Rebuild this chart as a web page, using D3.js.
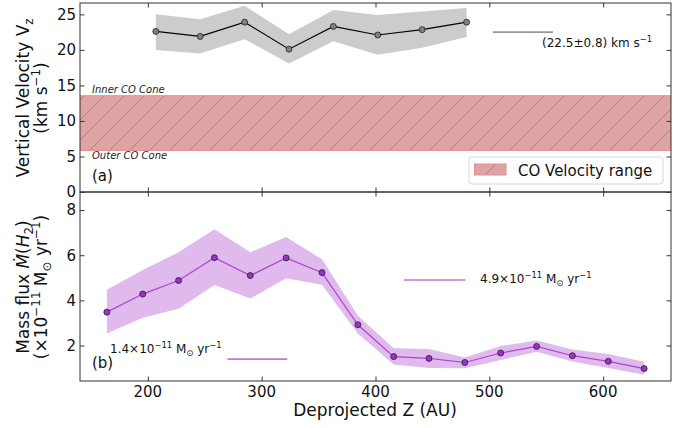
<!DOCTYPE html>
<html>
<head>
<meta charset="utf-8">
<script src="https://cdn.jsdelivr.net/npm/d3@7"></script>
<style>
  html, body { margin: 0; padding: 0; background: #fff; }
  svg { display: block; font-family: "DejaVu Sans", sans-serif; }
</style>
</head>
<body>
<svg id="chart" width="692" height="428"></svg>
<script>
// Panel (a): vertical velocity along the outflow
const zVel = [207, 246, 285, 324, 363, 402, 441, 480];
const vz = [22.6, 21.9, 23.9, 20.1, 23.3, 22.1, 22.85, 23.9];
const vzLow = [20.0, 19.5, 21.5, 18.1, 21.2, 19.3, 20.3, 21.8];
const vzHigh = [25.0, 24.3, 26.2, 22.2, 25.6, 24.9, 25.4, 25.9];
const vzMean = 22.5;
const vzMeanSpan = [503, 556];
const coRange = [5.85, 13.55];

// Panel (b): H2 mass flux
const zFlux = [164, 195.5, 227, 258.5, 290, 321.5, 353, 384.5, 416, 447, 478.5, 510, 541.5, 573, 604.5, 636];
const flux = [3.48, 4.28, 4.88, 5.89, 5.10, 5.88, 5.23, 2.92, 1.51, 1.43, 1.25, 1.67, 1.96, 1.55, 1.30, 0.98];
const fluxLow = [2.53, 3.23, 3.63, 4.68, 4.08, 4.98, 4.69, 2.53, 1.16, 1.01, 0.99, 1.36, 1.72, 1.29, 1.01, 0.71];
const fluxHigh = [4.47, 5.35, 6.13, 7.15, 6.13, 6.81, 5.82, 3.32, 1.88, 1.85, 1.47, 1.98, 2.22, 1.82, 1.63, 1.28];
const fluxInner = 4.9, fluxInnerSpan = [425, 479];
const fluxOuter = 1.4, fluxOuterSpan = [270, 322.5];

// Tick values
const xTicks = [200, 300, 400, 500, 600];
const vTicks = [0, 5, 10, 15, 20, 25];
const fTicks = [2, 4, 6, 8];

const svg = d3.select("#chart");
const L = 80, R = 671;
const topA = 3, botA = 192, topB = 192, botB = 381;

const x = d3.scaleLinear().domain([140.4, 659.6]).range([L, R]);
const yA = d3.scaleLinear().domain([0, 26.6]).range([botA, topA]);
const yB = d3.scaleLinear().domain([0.43, 8.8]).range([botB, topB]);

const defs = svg.append("defs");
const hatch = defs.append("pattern").attr("id", "hatch")
  .attr("patternUnits", "userSpaceOnUse").attr("width", 20).attr("height", 20);
hatch.append("rect").attr("width", 20).attr("height", 20).attr("fill", "#dea4a4");
hatch.append("path").attr("d", "M-5,5 L5,-5 M0,20 L20,0 M15,25 L25,15")
  .attr("stroke", "#cc6f6f").attr("stroke-width", 0.9);

defs.append("clipPath").attr("id", "clipA").append("rect")
  .attr("x", L).attr("y", topA).attr("width", R - L).attr("height", botA - topA);
defs.append("clipPath").attr("id", "clipB").append("rect")
  .attr("x", L).attr("y", topB).attr("width", R - L).attr("height", botB - topB);

// ---------- Panel (a) ----------
const gA = svg.append("g").attr("clip-path", "url(#clipA)");

gA.append("rect")
  .attr("x", L).attr("width", R - L)
  .attr("y", yA(coRange[1])).attr("height", yA(coRange[0]) - yA(coRange[1]))
  .attr("fill", "url(#hatch)");
[coRange[0], coRange[1]].forEach(v => {
  gA.append("line").attr("x1", L).attr("x2", R).attr("y1", yA(v)).attr("y2", yA(v))
    .attr("stroke", "#e58e8e").attr("stroke-width", 1);
});

const areaA = d3.area().x((d, i) => x(zVel[i])).y0((d, i) => yA(vzLow[i])).y1((d, i) => yA(vzHigh[i]));
gA.append("path").datum(vz).attr("d", areaA).attr("fill", "#cccccc");

gA.append("path").datum(vz)
  .attr("d", d3.line().x((d, i) => x(zVel[i])).y(d => yA(d)))
  .attr("fill", "none").attr("stroke", "#000").attr("stroke-width", 1.2);
gA.selectAll("circle").data(vz).join("circle")
  .attr("cx", (d, i) => x(zVel[i])).attr("cy", d => yA(d)).attr("r", 3)
  .attr("fill", "#808080").attr("stroke", "#222").attr("stroke-width", 0.8);

gA.append("line")
  .attr("x1", x(vzMeanSpan[0])).attr("x2", x(vzMeanSpan[1]))
  .attr("y1", yA(vzMean)).attr("y2", yA(vzMean))
  .attr("stroke", "#999").attr("stroke-width", 1.6);

// ---------- Panel (b) ----------
const gB = svg.append("g").attr("clip-path", "url(#clipB)");
const areaB = d3.area().x((d, i) => x(zFlux[i])).y0((d, i) => yB(fluxLow[i])).y1((d, i) => yB(fluxHigh[i]));
gB.append("path").datum(flux).attr("d", areaB).attr("fill", "#e0baec");
gB.append("path").datum(flux)
  .attr("d", d3.line().x((d, i) => x(zFlux[i])).y(d => yB(d)))
  .attr("fill", "none").attr("stroke", "#a846d2").attr("stroke-width", 1.2);
gB.selectAll("circle").data(flux).join("circle")
  .attr("cx", (d, i) => x(zFlux[i])).attr("cy", d => yB(d)).attr("r", 3)
  .attr("fill", "#9932cc").attr("stroke", "#222").attr("stroke-width", 0.8);

[[fluxInner, fluxInnerSpan], [fluxOuter, fluxOuterSpan]].forEach(([v, s]) => {
  gB.append("line").attr("x1", x(s[0])).attr("x2", x(s[1]))
    .attr("y1", yB(v)).attr("y2", yB(v))
    .attr("stroke", "#c872e2").attr("stroke-width", 1.6);
});

// ---------- Axes ----------
function inwardAxes(yScale, top, bot, yT) {
  const ax = svg.append("g");
  ax.append("g").attr("transform", `translate(0,${bot})`)
    .call(d3.axisBottom(x).tickValues(xTicks).tickSize(-4.5).tickFormat(""));
  ax.append("g").attr("transform", `translate(0,${top})`)
    .call(d3.axisTop(x).tickValues(xTicks).tickSize(-4.5).tickFormat(""));
  ax.append("g").attr("transform", `translate(${L},0)`)
    .call(d3.axisLeft(yScale).tickValues(yT).tickSize(-4.5).tickFormat(""));
  ax.append("g").attr("transform", `translate(${R},0)`)
    .call(d3.axisRight(yScale).tickValues(yT).tickSize(-4.5).tickFormat(""));
  ax.selectAll(".domain").remove();
  ax.selectAll(".tick text").remove();
  ax.selectAll(".tick line").attr("stroke", "#222").attr("stroke-width", 0.9);
  svg.append("g").selectAll("text").data(yT).join("text")
    .attr("x", L - 4).attr("y", d => yScale(d)).attr("dy", "0.36em")
    .attr("text-anchor", "end").attr("font-size", 15).attr("fill", "#111")
    .text(d => d);
}
inwardAxes(yA, topA, botA, vTicks);
inwardAxes(yB, topB, botB, fTicks);

svg.append("g").selectAll("text").data(xTicks).join("text")
  .attr("x", d => x(d)).attr("y", 397).attr("text-anchor", "middle")
  .attr("font-size", 15).attr("fill", "#111").text(d => d);

svg.append("rect").attr("x", L).attr("y", topA).attr("width", R - L).attr("height", botA - topA)
  .attr("fill", "none").attr("stroke", "#333").attr("stroke-width", 1);
svg.append("rect").attr("x", L).attr("y", topB).attr("width", R - L).attr("height", botB - topB)
  .attr("fill", "none").attr("stroke", "#333").attr("stroke-width", 1);

// ---------- Rich text: superscripts / subscripts via dy shifts ----------
function rich(sel, parts, size) {
  let offset = 0; // current vertical shift from baseline
  parts.forEach(p => {
    const target = p.sup ? -size * 0.42 : p.sub ? size * 0.22 : 0;
    const t = sel.append("tspan").text(p.t);
    if (target !== offset) t.attr("dy", target - offset);
    offset = target;
    if (p.italic) t.attr("font-style", "italic");
    if (p.sup || p.sub) t.attr("font-size", size * 0.7);
  });
  return sel;
}

// Axis titles
const a1 = svg.append("text").attr("transform", "translate(29,98) rotate(-90)")
  .attr("text-anchor", "middle").attr("font-size", 17).attr("fill", "#111");
rich(a1, [{ t: "Vertical Velocity V" }, { t: "z", sub: true }], 17);
const a2 = svg.append("text").attr("transform", "translate(47,98) rotate(-90)")
  .attr("text-anchor", "middle").attr("font-size", 17).attr("fill", "#111");
rich(a2, [{ t: "(km s" }, { t: "\u22121", sup: true }, { t: ")" }], 17);

const b1 = svg.append("text").attr("transform", "translate(29,287) rotate(-90)")
  .attr("text-anchor", "middle").attr("font-size", 17).attr("fill", "#111");
rich(b1, [{ t: "Mass flux " }, { t: "\u1E40", italic: true }, { t: "(" }, { t: "H", italic: true }, { t: "2", sub: true }, { t: ")" }], 17);
const b2 = svg.append("text").attr("transform", "translate(47,287) rotate(-90)")
  .attr("text-anchor", "middle").attr("font-size", 17).attr("fill", "#111");
rich(b2, [{ t: "(\u00D710" }, { t: "\u221211", sup: true }, { t: " M" }, { t: "\u2299", sub: true }, { t: " yr" }, { t: "\u22121", sup: true }, { t: ")" }], 17);

svg.append("text").attr("x", 375).attr("y", 416).attr("text-anchor", "middle")
  .attr("font-size", 17).attr("fill", "#111").text("Deprojected Z (AU)");

// Panel annotations
svg.append("text").attr("x", 92).attr("y", 181).attr("font-size", 15).attr("fill", "#111").text("(a)");
svg.append("text").attr("x", 92).attr("y", 368).attr("font-size", 15).attr("fill", "#111").text("(b)");
svg.append("text").attr("x", 92).attr("y", 93).attr("font-size", 10).attr("font-style", "italic")
  .attr("fill", "#222").text("Inner CO Cone");
svg.append("text").attr("x", 92).attr("y", 159).attr("font-size", 10).attr("font-style", "italic")
  .attr("fill", "#222").text("Outer CO Cone");

const t1 = svg.append("text").attr("x", 542).attr("y", 47).attr("font-size", 12).attr("fill", "#111");
rich(t1, [{ t: "(" + vzMean + "\u00B10.8) km s" }, { t: "\u22121", sup: true }], 12);

const t2 = svg.append("text").attr("x", 480).attr("y", 283).attr("font-size", 12).attr("fill", "#111");
rich(t2, [{ t: fluxInner + "\u00D710" }, { t: "\u221211", sup: true }, { t: " M" }, { t: "\u2299", sub: true }, { t: " yr" }, { t: "\u22121", sup: true }], 12);

const t3 = svg.append("text").attr("x", 110).attr("y", 353).attr("font-size", 12).attr("fill", "#111");
rich(t3, [{ t: fluxOuter + "\u00D710" }, { t: "\u221211", sup: true }, { t: " M" }, { t: "\u2299", sub: true }, { t: " yr" }, { t: "\u22121", sup: true }], 12);

// Legend
const lg = svg.append("g");
lg.append("rect").attr("x", 469).attr("y", 157).attr("width", 194).attr("height", 27).attr("rx", 3)
  .attr("fill", "#fff").attr("fill-opacity", 0.8).attr("stroke", "#d6d6d6").attr("stroke-width", 1);
lg.append("rect").attr("x", 474.5).attr("y", 164).attr("width", 31.5).attr("height", 11)
  .attr("fill", "url(#hatch)").attr("stroke", "#e58e8e").attr("stroke-width", 1);
lg.append("text").attr("x", 518).attr("y", 175.5).attr("font-size", 15).attr("fill", "#111")
  .text("CO Velocity range");
</script>
</body>
</html>
